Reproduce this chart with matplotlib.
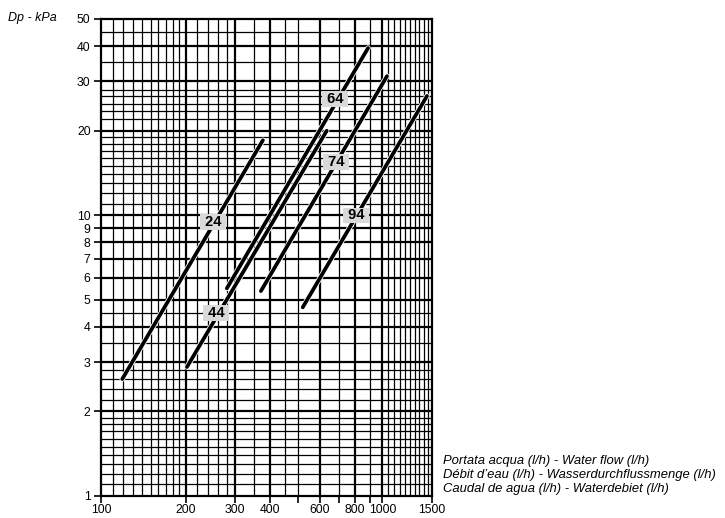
import numpy as np
import matplotlib
matplotlib.use('Agg')
import matplotlib.pyplot as plt
import matplotlib.patheffects as pe
from matplotlib.ticker import FixedLocator, NullFormatter, NullLocator

plt.rcParams['font.family'] = ['Liberation Sans', 'DejaVu Sans']

# curve data (flow l/h, pressure drop kPa)
MODELS = ['24', '44', '64', '74', '94']
FLOW_START = [119, 202, 280, 370, 521]
FLOW_END = [376, 634, 889, 1038, 1440]
DP_START = [2.61, 2.88, 5.49, 5.37, 4.70]
DP_END = [18.5, 20.0, 39.4, 31.3, 26.6]
LABEL_FLOW = [250, 256, 678, 684, 806]
LABEL_DP = [9.46, 4.48, 25.9, 15.5, 10.0]

X_TICKS = [100, 200, 300, 400, 600, 800, 1000, 1500]
X_MINOR_TICKS = [500, 700, 900]
Y_TICKS = [1, 2, 3, 4, 5, 6, 7, 8, 9, 10, 20, 30, 40, 50]

# grid of the printed log paper
X_GRID = (list(range(110, 200, 10)) + list(range(220, 300, 20)) + [350, 450, 500, 700, 900]
          + list(range(1050, 1500, 50)))
X_GRID_MAJOR = [200, 300, 400, 600, 800, 1000]
Y_GRID = ([1.1, 1.2, 1.3, 1.4, 1.5, 1.6, 1.7, 1.8, 1.9, 2.2, 2.4, 2.6, 2.8, 3.5, 4.5]
          + list(range(11, 20)) + [22, 23.5, 25, 26.5, 28, 35, 45])
Y_GRID_MAJOR = [2, 3, 4, 5, 6, 7, 8, 9, 10, 20, 30, 40]

XLABEL = ('Portata acqua (l/h) - Water flow (l/h)\n'
          'Débit d\u2019eau (l/h) - Wasserdurchflussmenge (l/h)\n'
          'Caudal de agua (l/h) - Waterdebiet (l/h)')

fig = plt.figure(figsize=(7.25, 5.18), dpi=100)
ax = fig.add_axes([101 / 725, 1 - 496 / 518, (432 - 101) / 725, (496 - 19) / 518])
ax.set_xscale('log')
ax.set_yscale('log')
ax.set_xlim(100, 1500)
ax.set_ylim(1, 50)

for v in X_GRID:
    ax.axvline(v, color='black', lw=0.9, zorder=1)
for v in X_GRID_MAJOR:
    ax.axvline(v, color='black', lw=1.6, zorder=1)
for v in Y_GRID:
    ax.axhline(v, color='black', lw=0.9, zorder=1)
for v in Y_GRID_MAJOR:
    ax.axhline(v, color='black', lw=1.6, zorder=1)

for m, fs, fe, ds, de in zip(MODELS, FLOW_START, FLOW_END, DP_START, DP_END):
    ax.plot([fs, fe], [ds, de], color='black', lw=2.7, solid_capstyle='round', zorder=3,
            path_effects=[pe.withStroke(linewidth=3.9, foreground='white')])

for m, fx, dy in zip(MODELS, LABEL_FLOW, LABEL_DP):
    ax.text(fx, dy, ' ' + m + ' ', ha='center', va='center', fontsize=10.5,
            fontweight='bold', zorder=5,
            bbox=dict(boxstyle='square,pad=0.05', fc='#d9d9d9', ec='none'))

ax.xaxis.set_major_locator(FixedLocator(X_TICKS))
ax.xaxis.set_minor_locator(FixedLocator(X_MINOR_TICKS))
ax.xaxis.set_minor_formatter(NullFormatter())
ax.set_xticklabels([str(v) for v in X_TICKS])
ax.yaxis.set_major_locator(FixedLocator(Y_TICKS))
ax.yaxis.set_minor_locator(NullLocator())
ax.set_yticklabels([str(v) for v in Y_TICKS])
ax.tick_params(axis='both', which='both', direction='out', length=5, width=1.2,
               labelsize=8.8, color='black')
ax.tick_params(axis='x', pad=1.0)
ax.tick_params(axis='y', pad=2.5)
for s in ax.spines.values():
    s.set_linewidth(1.6)
    s.set_zorder(4)

fig.text(8 / 725, 1 - 18 / 518, 'Dp - kPa', ha='left', va='center', fontsize=9,
         style='italic')
fig.text(443 / 725, 1 - 475 / 518, XLABEL, ha='left', va='center', fontsize=9.35,
         style='italic', linespacing=1.22)

fig.savefig('out.png', dpi=100)
